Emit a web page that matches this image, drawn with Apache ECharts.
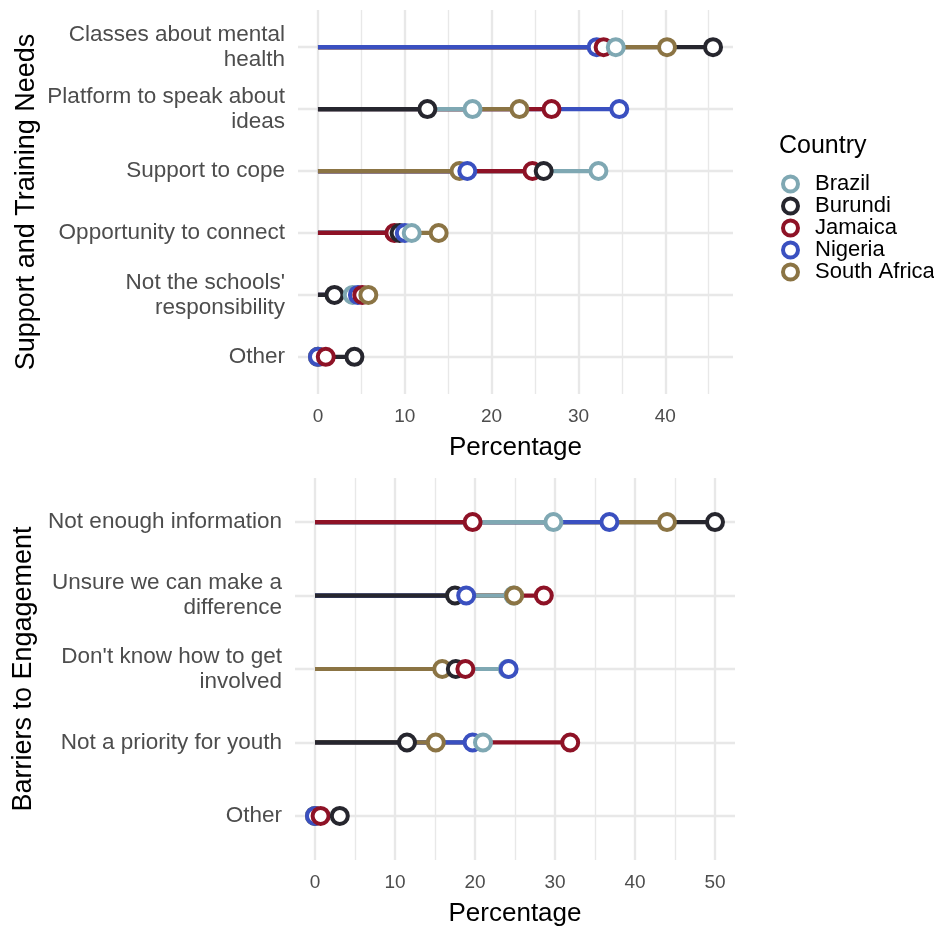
<!DOCTYPE html>
<html>
<head>
<meta charset="utf-8">
<script src="https://cdn.jsdelivr.net/npm/echarts@6/dist/echarts.min.js"></script>
<style>
  html, body { margin: 0; padding: 0; background: #ffffff; }
  #chart { width: 934px; height: 928px; }
</style>
</head>
<body>
<div id="chart"></div>
<script>
// ---------------- DATA ----------------
const countries = ['Brazil', 'Burundi', 'Jamaica', 'Nigeria', 'South Africa'];

const supportCategories = [
  'Classes about mental\nhealth',
  'Platform to speak about\nideas',
  'Support to cope',
  'Opportunity to connect',
  "Not the schools'\nresponsibility",
  'Other'
];
const supportBrazil      = [34.3, 17.8, 32.3, 10.8, 4.0, 0.0];
const supportBurundi     = [45.5, 12.6, 26.0,  9.4, 1.9, 4.2];
const supportJamaica     = [32.9, 26.9, 24.7,  8.8, 5.1, 0.9];
const supportNigeria     = [32.1, 34.7, 17.2, 10.0, 4.6, 0.0];
const supportSouthAfrica = [40.2, 23.2, 16.3, 13.9, 5.8, 0.0];

const barrierCategories = [
  'Not enough information',
  'Unsure we can make a\ndifference',
  "Don't know how to get\ninvolved",
  'Not a priority for youth',
  'Other'
];
const barrierBrazil      = [29.8, 24.8, 24.1, 21.0, 0.0];
const barrierBurundi     = [50.0, 17.5, 17.6, 11.5, 3.1];
const barrierJamaica     = [19.7, 28.6, 18.8, 31.9, 0.7];
const barrierNigeria     = [36.8, 18.9, 24.2, 19.7, 0.0];
const barrierSouthAfrica = [44.0, 24.9, 15.9, 15.1, 0.0];

const supportTicks = [0, 10, 20, 30, 40];
const supportMinorTicks = [5, 15, 25, 35, 45];
const barrierTicks = [0, 10, 20, 30, 40, 50];
const barrierMinorTicks = [5, 15, 25, 35, 45];

// ---------------- STYLE ----------------
const colors = ['#7FA8B3', '#26262E', '#8E1226', '#3A50C0', '#8B7444'];
const drawRank = [0, 1, 2, 4, 3]; // tie-break for overlapping points
const FONT = '"Liberation Sans", Arial, Helvetica, sans-serif';
const gridColor = '#e8e8e8';

function buildItems(seriesArrays) {
  const items = [];
  seriesArrays.forEach((arr, ci) => {
    arr.forEach((v, k) => items.push([v, k, ci]));
  });
  return items;
}
const supportItems = buildItems([supportBrazil, supportBurundi, supportJamaica, supportNigeria, supportSouthAfrica]);
const barrierItems = buildItems([barrierBrazil, barrierBurundi, barrierJamaica, barrierNigeria, barrierSouthAfrica]);

function segDesc(items) {
  return items.slice().sort((a, b) => b[0] - a[0]);
}
function ptsAsc(items) {
  return items.slice().sort((a, b) => (a[0] - b[0]) || (drawRank[a[2]] - drawRank[b[2]]));
}

function segmentRender(params, api) {
  const v = api.value(0), k = api.value(1), ci = api.value(2);
  const p0 = api.coord([0, k]);
  const p1 = api.coord([v, k]);
  return {
    type: 'line',
    shape: { x1: p0[0], y1: p0[1], x2: p1[0], y2: p1[1] },
    style: { stroke: colors[ci], lineWidth: 4.2, lineCap: 'butt' }
  };
}
function pointRender(params, api) {
  const v = api.value(0), k = api.value(1), ci = api.value(2);
  const p = api.coord([v, k]);
  return {
    type: 'circle',
    shape: { cx: p[0], cy: p[1], r: 8 },
    style: { fill: '#ffffff', stroke: colors[ci], lineWidth: 4 }
  };
}

function xAxisMajor(gridIndex, min, max, ticks) {
  return {
    type: 'value', gridIndex, min, max,
    name: 'Percentage', nameLocation: 'middle', nameGap: 41,
    nameTextStyle: { fontFamily: FONT, fontSize: 26, color: '#000' },
    axisLine: { show: false },
    axisTick: { show: false, customValues: ticks },
    axisLabel: { customValues: ticks, margin: 13, fontFamily: FONT, fontSize: 19, color: '#4d4d4d' },
    splitLine: { show: true, lineStyle: { color: gridColor, width: 2.4 } }
  };
}
function xAxisMinor(gridIndex, min, max, ticks) {
  return {
    type: 'value', gridIndex, min, max,
    axisLine: { show: false },
    axisTick: { show: false, customValues: ticks },
    axisLabel: { show: false, customValues: ticks },
    splitLine: { show: true, lineStyle: { color: gridColor, width: 1.4 } }
  };
}
function yAxisCat(gridIndex, cats, name) {
  const idx = cats.map((c, i) => i);
  return {
    type: 'value', gridIndex, inverse: true,
    min: -0.6, max: cats.length - 1 + 0.6,
    name, nameLocation: 'middle', nameGap: 258, nameRotate: 90,
    nameTextStyle: { fontFamily: FONT, fontSize: 27, color: '#000' },
    axisLine: { show: false },
    axisTick: { show: false, customValues: idx },
    axisLabel: {
      customValues: idx, margin: 13, fontFamily: FONT, fontSize: 22.5, color: '#4d4d4d',
      lineHeight: 25, align: 'right', padding: [4, 0, 0, 0],
      formatter: v => cats[Math.round(v)] || ''
    },
    splitLine: { show: true, lineStyle: { color: gridColor, width: 2.4 } }
  };
}

const legendSeries = countries.map((c, i) => ({
  name: c, type: 'scatter', data: [], xAxisIndex: 0, yAxisIndex: 0,
  itemStyle: { color: colors[i], opacity: 1 }
}));

const option = {
  animation: false,
  backgroundColor: '#ffffff',
  title: {
    text: 'Country', left: 774, top: 129,
    textStyle: { fontFamily: FONT, fontSize: 25, fontWeight: 'normal', color: '#000' }
  },
  legend: {
    orient: 'vertical', left: 776, top: 168, selectedMode: false,
    itemWidth: 15, itemHeight: 15, itemGap: 0,
    textStyle: { fontFamily: FONT, fontSize: 22, color: '#000', lineHeight: 20.8, padding: [0, 0, 0, 12] },
    data: countries.map((c, i) => ({
      name: c, icon: 'circle',
      itemStyle: { color: '#ffffff', borderColor: colors[i], borderWidth: 4, opacity: 1 }
    }))
  },
  grid: [
    { left: 298, top: 10, width: 435, height: 384 },
    { left: 295, top: 478, width: 440, height: 383 }
  ],
  xAxis: [
    xAxisMajor(0, -2.3, 47.8, supportTicks),
    xAxisMinor(0, -2.3, 47.8, supportMinorTicks),
    xAxisMajor(1, -2.5, 52.5, barrierTicks),
    xAxisMinor(1, -2.5, 52.5, barrierMinorTicks)
  ],
  yAxis: [
    yAxisCat(0, supportCategories, 'Support and Training Needs'),
    yAxisCat(1, barrierCategories, 'Barriers to Engagement')
  ],
  series: [
    ...legendSeries,
    { type: 'custom', name: 'support-seg', xAxisIndex: 0, yAxisIndex: 0, z: 2,
      renderItem: segmentRender, data: segDesc(supportItems), encode: { x: 0, y: 1 } },
    { type: 'custom', name: 'support-pts', xAxisIndex: 0, yAxisIndex: 0, z: 3,
      renderItem: pointRender, data: ptsAsc(supportItems), encode: { x: 0, y: 1 } },
    { type: 'custom', name: 'barrier-seg', xAxisIndex: 2, yAxisIndex: 1, z: 2,
      renderItem: segmentRender, data: segDesc(barrierItems), encode: { x: 0, y: 1 } },
    { type: 'custom', name: 'barrier-pts', xAxisIndex: 2, yAxisIndex: 1, z: 3,
      renderItem: pointRender, data: ptsAsc(barrierItems), encode: { x: 0, y: 1 } }
  ]
};

const chart = echarts.init(document.getElementById('chart'), null, { renderer: 'canvas' });
chart.setOption(option);
</script>
</body>
</html>
